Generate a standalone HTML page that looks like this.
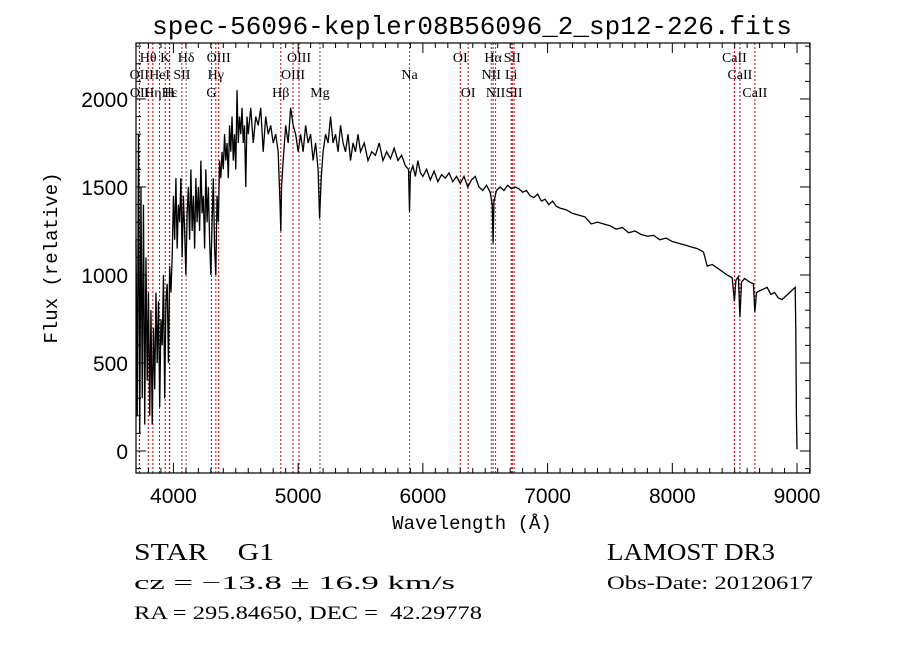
<!DOCTYPE html>
<html><head><meta charset="utf-8"><style>
html,body{margin:0;padding:0;background:#fff;}
svg{display:block;}
</style></head><body>
<svg id="chart" width="900" height="649" viewBox="0 0 900 649" xmlns="http://www.w3.org/2000/svg">
<rect x="0" y="0" width="900" height="649" fill="#fff"/>
<text x="472" y="34" font-family="Liberation Mono, monospace" font-size="26" text-anchor="middle">spec-56096-kepler08B56096_2_sp12-226.fits</text>
<g id="lines"></g>
<g id="linelabels"></g>
<path id="spec" fill="none" stroke="#000" stroke-width="1.3"/>
<rect x="136" y="43" width="674" height="430" fill="none" stroke="#000" stroke-width="1.2"/>
<g id="ticks"></g>
<text x="472" y="529" font-family="Liberation Mono, monospace" font-size="19" text-anchor="middle">Wavelength (Å)</text>
<text transform="translate(57,258) rotate(-90)" font-family="Liberation Mono, monospace" font-size="19" text-anchor="middle">Flux (relative)</text>
<text x="134" y="560" font-family="Liberation Serif, serif" font-size="24" textLength="140" lengthAdjust="spacingAndGlyphs" style="white-space:pre">STAR    G1</text>
<text x="134" y="589" font-family="Liberation Serif, serif" font-size="19" textLength="321" lengthAdjust="spacingAndGlyphs">cz = −13.8 ± 16.9 km/s</text>
<text x="134" y="619" font-family="Liberation Serif, serif" font-size="19" textLength="348" lengthAdjust="spacingAndGlyphs" style="white-space:pre">RA = 295.84650, DEC =  42.29778</text>
<text x="607" y="560" font-family="Liberation Serif, serif" font-size="24" textLength="168" lengthAdjust="spacingAndGlyphs">LAMOST DR3</text>
<text x="607" y="589" font-family="Liberation Serif, serif" font-size="19" textLength="206" lengthAdjust="spacingAndGlyphs">Obs-Date: 20120617</text>
</svg>
<script>
const wavelengths=[3700,3710,3720,3730,3740,3750,3760,3770,3780,3790,3800,3810,3820,3830,3840,3850,3860,3870,3880,3890,3900,3910,3920,3930,3940,3950,3960,3970,3980,3990,
4000,4010,4020,4030,4040,4050,4060,4070,4080,4090,4100,4110,4120,4130,4140,4150,4160,4170,4180,4190,4200,4210,4220,4230,4240,4250,4260,4270,4280,4290,4300,4310,4320,4330,4340,4350,4360,4370,4380,4390,4400,4410,4420,4430,4440,4450,4460,4470,4480,4490,4500,4510,4520,4530,4540,4550,4560,4570,4580,4590,4600,4620,4640,4660,4680,4700,4720,4740,4760,4780,4800,4820,4840,4855,4861,4867,4880,4900,4920,4940,4960,4980,5000,5020,5040,5060,5080,5100,5120,5140,5160,5172,5185,5200,5220,5240,5260,5280,5300,5320,5340,5360,5380,5400,5420,5440,5460,5480,5500,5530,5560,5590,5620,5650,5680,5710,5740,5770,5800,5830,5860,5885,5893,5900,5920,5940,5960,5980,6000,6030,6060,6090,6120,6150,6180,6210,6240,6270,6300,6330,6360,6390,6420,6450,6480,6510,6540,6556,6563,6570,6590,6620,6650,6680,6710,6740,6770,6800,6830,6860,6890,6920,6950,6980,7010,7040,7070,7100,7150,7200,7250,7300,7350,7400,7450,7500,7550,7600,7650,7700,7750,7800,7850,7900,7950,8000,8050,8100,8150,8200,8250,8280,8320,8360,8400,8440,8480,8498,8510,8530,8542,8555,8580,8620,8650,8662,8675,8700,8730,8760,8790,8820,8850,8880,8910,8940,8970,8985,8990,8995,9000];
const flux=[1200,200,1800,100,1500,300,1400,150,1100,400,900,200,800,150,700,350,900,500,850,250,750,600,1000,300,850,950,500,1050,900,1100,
1450,1200,1550,1150,1400,1300,1550,1100,1450,1250,1000,1350,1500,1200,1600,1250,1450,1150,1550,1300,1500,1250,1650,1350,1450,1150,1600,1300,1500,1200,1000,1300,1550,1150,1000,1450,1300,1650,1550,1700,1600,1800,1650,1750,1550,1850,1700,1900,1650,1800,1600,2050,1750,1900,1800,1950,1750,1850,1500,1900,1800,1950,1750,1900,1850,1950,1700,1900,1800,1850,1750,1800,1700,1400,1250,1500,1650,1850,1750,1950,1850,1800,1700,1800,1700,1850,1750,1800,1650,1750,1600,1320,1550,1700,1800,1750,1900,1750,1800,1700,1850,1750,1700,1800,1650,1750,1700,1800,1700,1750,1650,1700,1680,1750,1650,1700,1660,1720,1650,1680,1620,1600,1360,1580,1620,1560,1650,1580,1560,1600,1540,1590,1530,1570,1550,1580,1530,1560,1520,1560,1500,1540,1560,1500,1480,1510,1470,1400,1180,1420,1480,1500,1480,1510,1490,1500,1490,1470,1480,1450,1440,1460,1420,1430,1400,1420,1390,1380,1370,1350,1340,1330,1290,1300,1290,1280,1260,1270,1240,1250,1230,1220,1225,1200,1210,1190,1180,1170,1160,1150,1130,1050,1060,1040,1020,1000,985,850,970,990,760,960,980,960,950,790,900,910,920,930,890,900,870,860,880,900,920,930,700,200,10];
const xTickLabels=["4000","5000","6000","7000","8000","9000"];
const yTickLabels=["0","500","1000","1500","2000"];
const lineWaves=[3727,3729,3798,3835,3889,3934,3968,3970,4068,4102,4305,4340,4363,4861,4959,5007,5175,5893,6300,6363,6548,6563,6583,6708,6717,6731,8498,8542,8662];
const lineNames=["OII","OII","Hθ","Hη","HeI","K","H","Hε","SII","Hδ","G","Hγ","OIII","Hβ","OIII","OIII","Mg","Na","OI","OI","NII","Hα","NII","Li","SII","SII","CaII","CaII","CaII"];
const lineRows=[2,3,1,3,2,1,3,3,2,1,3,2,1,3,2,1,3,2,1,3,2,1,3,2,1,3,1,2,3];
const lineDark=[0,0,0,0,0,0,0,0,0,1,0,0,0,0,0,0,1,1,0,0,1,0,1,0,0,0,0,0,0];

const X0=136,X1=810,Y0=43,Y1=473;
const LMIN=3700,LMAX=9104,FMIN=-125,FMAX=2318;
function xs(l){return X0+(l-LMIN)/(LMAX-LMIN)*(X1-X0);}
function ys(f){return Y1-(f-FMIN)/(FMAX-FMIN)*(Y1-Y0);}
const NS='http://www.w3.org/2000/svg';
function mk(tag,attrs,parent){const e=document.createElementNS(NS,tag);for(const k in attrs)e.setAttribute(k,attrs[k]);parent.appendChild(e);return e;}

let d='';
for(let i=0;i<wavelengths.length;i++){d+=(i?'L':'M')+xs(wavelengths[i]).toFixed(2)+','+ys(flux[i]).toFixed(2);}
document.getElementById('spec').setAttribute('d',d);

const lg=document.getElementById('lines'),tg=document.getElementById('linelabels');
const rowY={1:62,2:79,3:97};
for(let i=0;i<lineWaves.length;i++){
  const x=xs(lineWaves[i]);
  const ln=mk('line',{x1:x,x2:x,y1:Y0,y2:Y1,stroke:lineDark[i]?'#555':'#c00000','stroke-width':1,'stroke-dasharray':'2,2'},lg);
  
  
  const t=mk('text',{x:x,y:rowY[lineRows[i]],'font-family':'Liberation Serif, serif','font-size':14,'text-anchor':'middle'},tg);
  t.textContent=lineNames[i];
  
  
}

const tk=document.getElementById('ticks');
for(let l=3800;l<=9100;l+=100){
  const x=xs(l);const major=(l%1000===0);const len=major?10:5;
  const a=mk('line',{x1:x,x2:x,y1:Y1,y2:Y1-len,stroke:'#000','stroke-width':1},tk);
  
  
  const b=mk('line',{x1:x,x2:x,y1:Y0,y2:Y0+len,stroke:'#000','stroke-width':1},tk);
  
  
}
xTickLabels.forEach(s=>{
  const t=mk('text',{x:xs(+s),y:503,'font-family':'Liberation Sans, sans-serif','font-size':21,'text-anchor':'middle'},tk);
  t.textContent=s;
  
  
});
for(let f=-100;f<=2300;f+=100){
  const y=ys(f);const major=(f%500===0);const len=major?10:5;
  const a=mk('line',{x1:X0,x2:X0+len,y1:y,y2:y,stroke:'#000','stroke-width':1},tk);
  
  
  const b=mk('line',{x1:X1,x2:X1-len,y1:y,y2:y,stroke:'#000','stroke-width':1},tk);
  
  
}
yTickLabels.forEach(s=>{
  const t=mk('text',{x:128,y:ys(+s)+8,'font-family':'Liberation Sans, sans-serif','font-size':21,'text-anchor':'end'},tk);
  t.textContent=s;
  
  
});
</script>
</body></html>
